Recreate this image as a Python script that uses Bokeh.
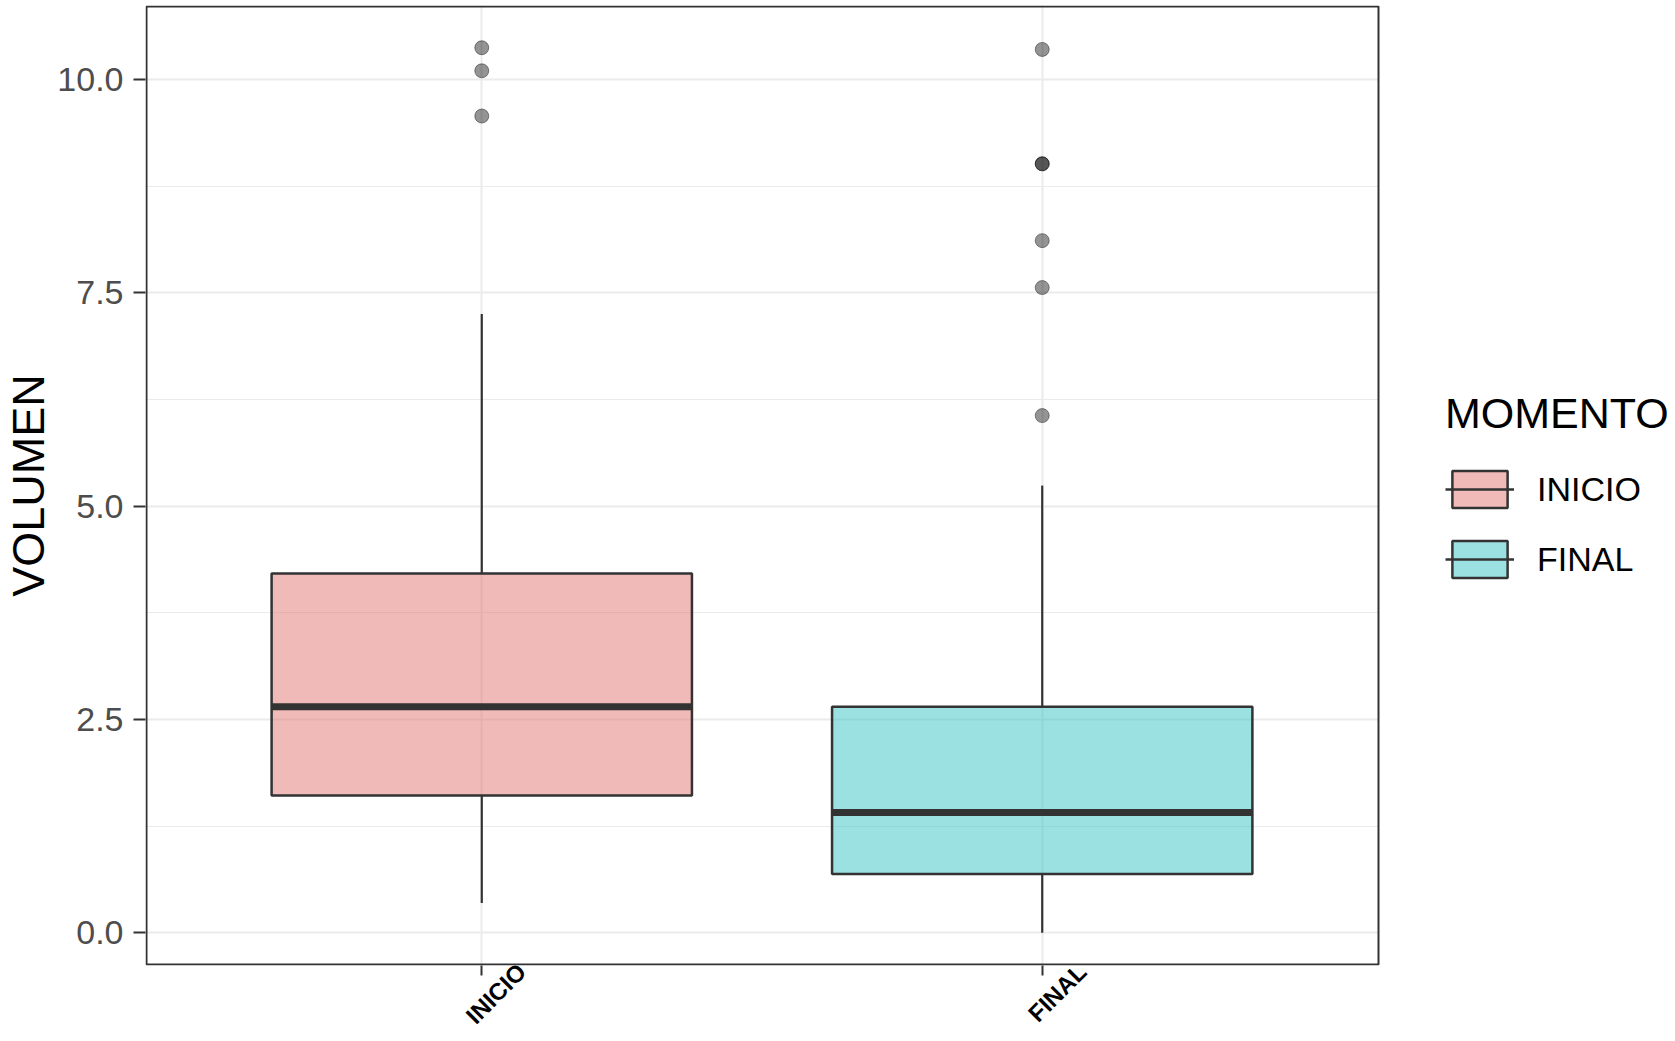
import math
from bokeh.plotting import figure
from bokeh.models import (Range1d, FixedTicker, PrintfTickFormatter, LinearAxis,
                          Legend, LegendItem, BoxAnnotation)
from bokeh.embed import file_html
from bokeh.resources import INLINE

# ---- data ----
categories = ["INICIO", "FINAL"]
q1 = [1.61, 0.69]
medians = [2.65, 1.41]
q3 = [4.21, 2.65]
whisker_low = [0.35, 0.0]
whisker_high = [7.25, 5.24]
outliers_inicio = [10.37, 10.10, 9.57]
outliers_final = [10.35, 9.01, 9.01, 8.11, 7.56, 6.06]
y_ticks = [0.0, 2.5, 5.0, 7.5, 10.0]
y_minor = [1.25, 3.75, 6.25, 8.75]

# ---- style / layout ----
fill_colors = ["#DF7571", "#37C3C3"]
dark = "#333333"
grid = "#EBEBEB"
FONT = "Liberation Sans"
box_width = 0.75

W, H = 1675, 1041
left, top, bottom = 145, 5, 66
panel_w = 1233                      # visible panel width (px)
legend_room = W - left - panel_w    # area right of the panel holding the legend
y_start, y_end = -0.383, 10.865
x_start, x_vis_end = 0.4, len(categories) + 0.6
px_per_x = panel_w / (x_vis_end - x_start)
x_end = x_vis_end + legend_room / px_per_x
px_per_y = 960 / (y_end - y_start)
label_shift = 40 / px_per_x  # rotated tick labels sit right of the tick

p = figure(width=W, height=H, output_backend="svg", toolbar_location=None,
           x_range=Range1d(x_start, x_end), y_range=Range1d(y_start, y_end),
           min_border_left=left, min_border_right=0, min_border_top=top,
           min_border_bottom=bottom)
p.background_fill_color = "white"
p.border_fill_color = "white"
p.outline_line_color = None

xs = [i + 1 for i in range(len(categories))]

# x axis: ticks only
p.xaxis.ticker = FixedTicker(ticks=xs)
p.xaxis.major_label_overrides = {x: "" for x in xs}
p.xaxis.major_label_text_font_size = "0px"
p.xaxis.major_label_standoff = 0
# second axis carrying the rotated category labels
p.extra_x_ranges["lab"] = Range1d(x_start - label_shift, x_end - label_shift)
lab_axis = LinearAxis(x_range_name="lab", ticker=FixedTicker(ticks=xs),
                      major_label_overrides={x: c for x, c in zip(xs, categories)},
                      major_label_orientation=math.pi / 4,
                      major_label_standoff=-8,
                      major_label_text_font=FONT, major_label_text_font_style="bold",
                      major_label_text_font_size="24px", major_label_text_color="black",
                      axis_line_color=None, major_tick_line_color=None,
                      minor_tick_line_color=None, major_tick_out=0, major_tick_in=0,
                      minor_tick_out=0, minor_tick_in=0)
p.add_layout(lab_axis, "below")

p.yaxis.ticker = FixedTicker(ticks=y_ticks, minor_ticks=y_minor)
p.yaxis.formatter = PrintfTickFormatter(format="%.1f")
for ax in (p.xaxis[0], p.yaxis[0]):
    ax.axis_line_color = None
    ax.major_tick_line_color = dark
    ax.major_tick_line_width = 2
    ax.major_tick_in = 0
    ax.minor_tick_line_color = None
    ax.minor_tick_out = 0
p.xaxis[0].major_tick_out = 10
p.yaxis.major_tick_out = 12
p.yaxis.major_label_text_font = FONT
p.yaxis.major_label_text_font_size = "34px"
p.yaxis.major_label_text_color = "#4D4D4D"
p.yaxis.major_label_standoff = 10
p.yaxis.axis_label = "VOLUMEN"
p.yaxis.axis_label_text_font = FONT
p.yaxis.axis_label_text_font_size = "45px"
p.yaxis.axis_label_text_font_style = "normal"
p.yaxis.axis_label_text_color = "black"
p.yaxis.axis_label_standoff = 0

# grids
p.xgrid.grid_line_color = grid
p.xgrid.grid_line_width = 2
p.ygrid.grid_line_color = grid
p.ygrid.grid_line_width = 2
p.ygrid.minor_grid_line_color = grid
p.ygrid.minor_grid_line_width = 1.2

# whiskers
p.segment(x0=xs, y0=q3, x1=xs, y1=whisker_high, line_color=dark, line_width=2.2)
p.segment(x0=xs, y0=q1, x1=xs, y1=whisker_low, line_color=dark, line_width=2.2)
# boxes
box_r = p.vbar(x=xs, width=box_width, bottom=q1, top=q3, fill_color=fill_colors,
               fill_alpha=0.5, line_color=dark, line_width=2.5)
# medians (thick), plus a thin overlay used for the legend key
mx0 = [x - box_width / 2 for x in xs]
mx1 = [x + box_width / 2 for x in xs]
p.segment(x0=mx0, y0=medians, x1=mx1, y1=medians, line_color=dark, line_width=7)
med_thin = p.segment(x0=mx0, y0=medians, x1=mx1, y1=medians, line_color=dark,
                     line_width=2.5)
# outliers
for x, outs in zip(xs, [outliers_inicio, outliers_final]):
    p.scatter(x=[x] * len(outs), y=outs, size=14, fill_color="black",
              fill_alpha=0.42, line_color="black", line_alpha=0.42)

# white area right of the panel (legend area), then the panel border
p.add_layout(BoxAnnotation(left=x_vis_end, fill_color="white", fill_alpha=1,
                           line_alpha=0))
p.add_layout(BoxAnnotation(left=x_start + 1 / px_per_x, right=x_vis_end,
                           bottom=y_start + 1 / px_per_y, top=y_end - 1 / px_per_y,
                           fill_alpha=0, line_color=dark, line_alpha=1,
                           line_width=2))

# legend
items = [LegendItem(label=cat, renderers=[box_r, med_thin], index=i)
         for i, cat in enumerate(categories)]
legend = Legend(items=items, title="MOMENTO", location=(panel_w + 67, 383),
                glyph_width=69, glyph_height=46, spacing=24, label_standoff=23,
                padding=0, margin=0, border_line_color=None,
                background_fill_alpha=0,
                title_text_font=FONT, title_text_font_size="43px",
                title_text_color="black", title_text_font_style="normal",
                title_standoff=28,
                label_text_font=FONT, label_text_font_size="34px",
                label_text_color="black")
p.add_layout(legend, "center")

open("out.html", "w").write(file_html(p, INLINE))
